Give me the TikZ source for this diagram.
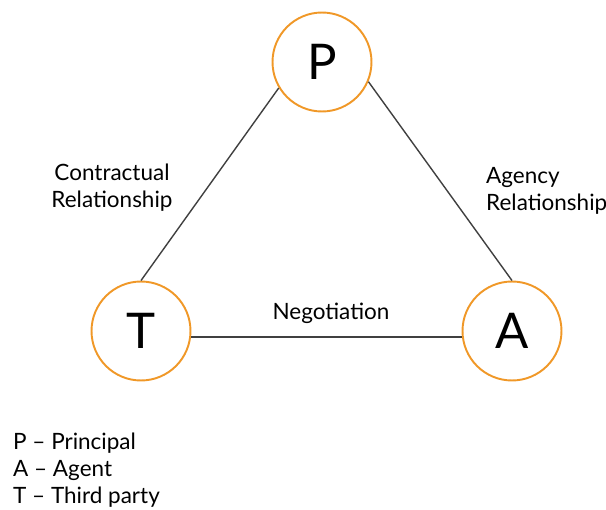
\documentclass[tikz,border=0pt]{standalone}
\usepackage{fontspec}
\setmainfont{Lato}
\usepackage{xcolor}
\usepackage{tikz}
\definecolor{partyorange}{RGB}{240,152,40}
\definecolor{linegray}{RGB}{64,64,64}

\begin{document}
\begin{tikzpicture}[x=0.02cm,y=-0.02cm,font=\fontsize{12.8}{15.5}\selectfont,
    party/.style={circle,draw=partyorange,line width=1.1pt,minimum size=1.98cm,
      inner sep=0pt,font=\fontsize{28}{30}\selectfont},
    tie/.style={draw=linegray,line width=0.8pt}]
  \useasboundingbox (0,0) rectangle (606,510);
  % parties
  \node[party] (P) at (322,62) {P};
  \node[party] (T) at (141,331) {T};
  \node[party] (A) at (512,331) {A};
  % relationships
  \draw[tie] (T.north) -- (P.211);
  \draw[tie] (A.north) -- (P.337);
  \draw[tie] (T.-7) -- (A.187);
  \node[align=center] (contract) at (112,188) {Contractual\\Relationship};
  \node[align=left,anchor=west] (agency) at (480,191) {Agency\\Relationship};
  \node (nego) at (331,313) {Negotiation};
  % legend
  \node[anchor=west] (legP) at (7,443) {P -- Principal};
  \node[anchor=west] (legA) at (7,470) {A -- Agent};
  \node[anchor=west] (legT) at (7,497) {T -- Third party};
\end{tikzpicture}
\end{document}
